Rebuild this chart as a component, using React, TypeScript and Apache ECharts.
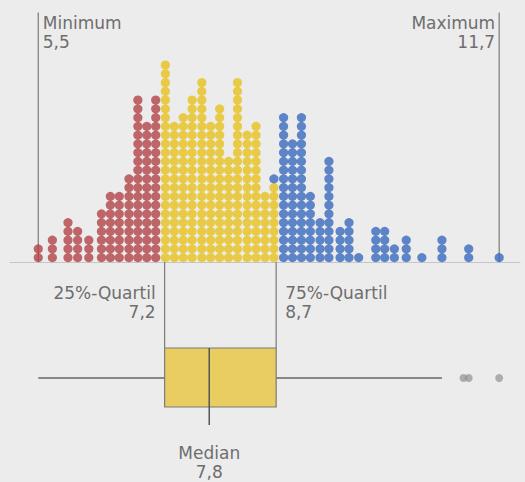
import React, { useEffect, useRef } from "react";
import * as echarts from "echarts";

// Dot columns (value position) and number of stacked dots per column
const lowColumns = [5.5, 5.69, 5.9, 6.03, 6.18, 6.35, 6.47, 6.59, 6.72, 6.84, 6.96, 7.08];
const lowCounts = [2, 3, 5, 4, 3, 6, 8, 8, 10, 19, 16, 19];
const midColumns = [7.21, 7.33, 7.45, 7.57, 7.7, 7.82, 7.94, 8.06, 8.18, 8.31, 8.43, 8.55, 8.67];
const midCounts = [23, 16, 17, 19, 21, 16, 18, 12, 21, 15, 16, 8, 9];
const highColumns = [8.67, 8.8, 8.92, 9.04, 9.16, 9.29, 9.41, 9.56, 9.68, 9.81, 10.04, 10.16, 10.29, 10.45, 10.66, 10.93, 11.29, 11.7];
const highCounts = [1, 17, 14, 17, 8, 5, 12, 4, 5, 1, 4, 4, 2, 3, 1, 3, 2, 1];

// Five-number summary
const minimum = 5.5;
const maximum = 11.7;
const quartile1 = 7.2;
const median = 7.8;
const quartile3 = 8.7;
const whiskerHigh = 10.93;
const outliers = [11.22, 11.29, 11.7];

const labelMin = "Minimum";
const labelMax = "Maximum";
const labelQ1 = "25%-Quartil";
const labelQ3 = "75%-Quartil";
const labelMedian = "Median";

const fmt = (v: number) => v.toFixed(1).replace(".", ",");

function buildDots() {
  const heights = new Map<number, number>();
  const stack = (cols: number[], counts: number[]) => {
    const pts: number[][] = [];
    cols.forEach((c, i) => {
      const base = heights.get(c) ?? 0;
      for (let k = 0; k < counts[i]; k++) pts.push([c, base + k + 0.5]);
      heights.set(c, base + counts[i]);
    });
    return pts;
  };
  return {
    low: stack(lowColumns, lowCounts),
    mid: stack(midColumns, midCounts),
    high: stack(highColumns, highCounts),
  };
}

const TEXT_COLOR = "#6e6e6e";
const LINE_COLOR = "#7a7a7a";
const FONT = "DejaVu Sans";

export default function App() {
  const ref = useRef<HTMLDivElement>(null);
  useEffect(() => {
    if (!ref.current) return;
    const chart = echarts.init(ref.current, undefined, { renderer: "svg" });
    const dots = buildDots();
    const dotSize = 9.2;

    const renderOverlay = (params: any, api: any) => {
      const cs = params.coordSys;
      const base = cs.y + cs.height;
      const px = (v: number) => api.coord([v, 0])[0];
      const line = (x1: number, y1: number, x2: number, y2: number, stroke = LINE_COLOR, w = 1.2) => ({
        type: "line",
        shape: { x1, y1, x2, y2 },
        style: { stroke, lineWidth: w },
      });
      const text = (x: number, y: number, t: string, align: string) => ({
        type: "text",
        x,
        y,
        style: {
          text: t,
          fill: TEXT_COLOR,
          fontSize: 17,
          fontFamily: FONT,
          align,
          verticalAlign: "top",
          lineHeight: 19,
        },
      });
      const xq1 = px(quartile1);
      const xq3 = px(quartile3);
      const xmed = px(median);
      const boxTop = base + 86;
      const boxBottom = base + 145;
      const whiskerY = base + 116;
      const children: any[] = [
        line(px(minimum), cs.y, px(minimum), base),
        line(px(maximum), cs.y, px(maximum), base),
        text(px(minimum) + 4.5, cs.y + 0.5, `${labelMin}\n${fmt(minimum)}`, "left"),
        text(px(maximum) - 4, cs.y + 0.5, `${labelMax}\n${fmt(maximum)}`, "right"),
        line(xq1, base, xq1, boxTop),
        line(xq3, base, xq3, boxTop),
        line(px(minimum), whiskerY, px(whiskerHigh), whiskerY, "#666", 1.4),
        {
          type: "rect",
          shape: { x: xq1, y: boxTop, width: xq3 - xq1, height: boxBottom - boxTop },
          style: { fill: "#e9cd60", stroke: LINE_COLOR, lineWidth: 1.2 },
        },
        line(xmed, boxTop, xmed, base + 163, "#555", 1.5),
        ...outliers.map((o) => ({
          type: "circle",
          shape: { cx: px(o), cy: whiskerY, r: 4 },
          style: { fill: "#8a8a8a", opacity: 0.65 },
        })),
        text(xq1 - 9, base + 21, `${labelQ1}\n${fmt(quartile1)}`, "right"),
        text(xq3 + 9, base + 21, `${labelQ3}\n${fmt(quartile3)}`, "left"),
        text(xmed, base + 181, `${labelMedian}\n${fmt(median)}`, "center"),
      ];
      return { type: "group", children };
    };

    chart.setOption({
      animation: false,
      backgroundColor: "#ececec",
      grid: { left: 10, width: 510, top: 12.6, height: 249.4 },
      xAxis: {
        type: "value",
        min: 5.12,
        max: 11.98,
        axisLine: { show: true, lineStyle: { color: "#c6c6c6", width: 1 } },
        axisTick: { show: false },
        axisLabel: { show: false },
        splitLine: { show: false },
      },
      yAxis: { type: "value", min: 0, max: 28.5, show: false },
      series: [
        {
          type: "custom",
          renderItem: renderOverlay,
          data: [[minimum]],
          clip: false,
          silent: true,
          z: 1,
        },
        {
          type: "scatter",
          data: dots.low,
          symbolSize: dotSize,
          itemStyle: { color: "#b24348" },
          silent: true,
          z: 3,
        },
        {
          type: "scatter",
          data: dots.mid,
          symbolSize: dotSize,
          itemStyle: { color: "#e8c21e" },
          silent: true,
          z: 3,
        },
        {
          type: "scatter",
          data: dots.high,
          symbolSize: dotSize,
          itemStyle: { color: "#3a6abe" },
          silent: true,
          z: 3,
        },
      ],
    });
    return () => chart.dispose();
  }, []);
  return (
    <div
      ref={ref}
      style={{ position: "absolute", left: 0, top: 0, width: 525, height: 482 }}
    />
  );
}
